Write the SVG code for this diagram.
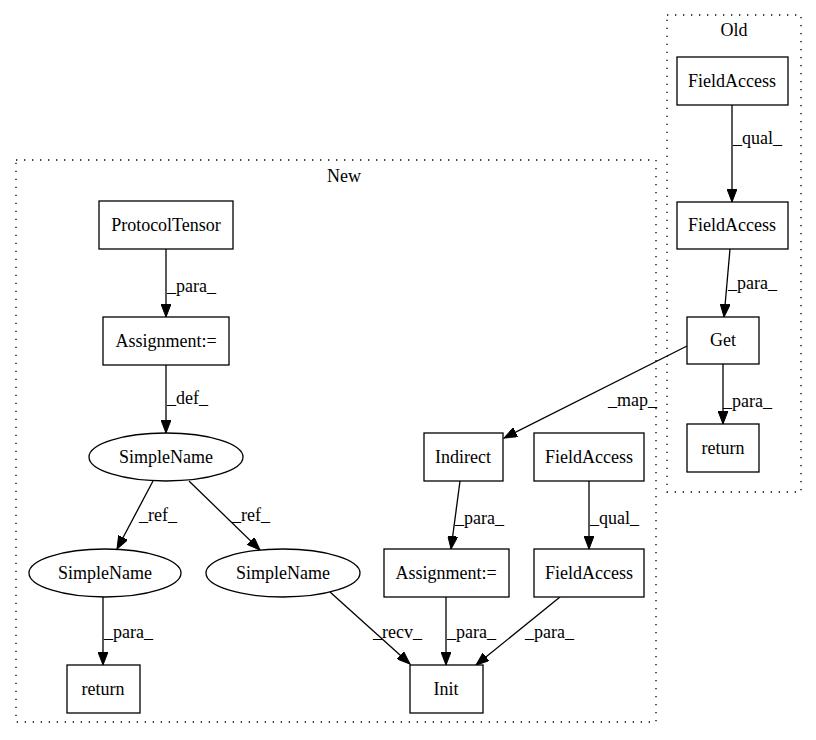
<svg xmlns="http://www.w3.org/2000/svg" width="816" height="740" viewBox="0 0 816 740">
<style>
  .cl { fill: none; stroke: #000; stroke-width: 1.3; stroke-dasharray: 1.3,6.7; }
  .nd { fill: #fff; stroke: #000; stroke-width: 1.3; }
  .t { font-family: "Liberation Serif", "Times New Roman", serif; font-size: 18px; fill: #000; }
  .c { text-anchor: middle; }
  .e { fill: none; stroke: #000; stroke-width: 1.3; marker-end: url(#ah); }
</style>
<defs>
  <marker id="ah" markerUnits="userSpaceOnUse" markerWidth="14" markerHeight="10" refX="13" refY="5" orient="auto">
    <path d="M0,0 L13,5 L0,10 Z" fill="#000" stroke="#000" stroke-width="1"/>
  </marker>
</defs>
<rect width="816" height="740" fill="#fff"/>

<g id="cluster_old">
  <rect class="cl" x="667" y="15" width="134" height="477"/>
  <text class="t c" x="734" y="36">Old</text>
</g>
<g id="cluster_new">
  <rect class="cl" x="16" y="160" width="640" height="562"/>
  <text class="t c" x="344" y="182">New</text>
</g>

<g id="connectors">
  <path class="e" d="M732,105 L732,202"/>
  <text class="t" x="733" y="144">_qual_</text>
  <path class="e" d="M730,249 L724,317"/>
  <text class="t" x="728" y="289">_para_</text>
  <path class="e" d="M723,364 L723,424"/>
  <text class="t" x="723" y="407">_para_</text>
  <path class="e" d="M687,346 L504,438"/>
  <text class="t" x="608" y="406">_map_</text>

  <path class="e" d="M166,249 L166,317"/>
  <text class="t" x="167" y="292">_para_</text>
  <path class="e" d="M166,365 L166,433"/>
  <text class="t" x="167" y="404">_def_</text>
  <path class="e" d="M153,481 L117,549"/>
  <text class="t" x="139" y="521">_ref_</text>
  <path class="e" d="M189,481 L260,550"/>
  <text class="t" x="232" y="521">_ref_</text>
  <path class="e" d="M103,597 L103,665"/>
  <text class="t" x="104" y="638">_para_</text>
  <path class="e" d="M330,592 L410,664"/>
  <text class="t" x="373" y="638">_recv_</text>
  <path class="e" d="M460,481 L451,549"/>
  <text class="t" x="455" y="524">_para_</text>
  <path class="e" d="M589,481 L589,549"/>
  <text class="t" x="590" y="524">_qual_</text>
  <path class="e" d="M446,597 L446,665"/>
  <text class="t" x="447" y="638">_para_</text>
  <path class="e" d="M560,597 L476,665"/>
  <text class="t" x="525" y="638">_para_</text>
</g>

<g id="old_fieldaccess1"><rect class="nd" x="677" y="57" width="111" height="48"/><text class="t c" x="732" y="87">FieldAccess</text></g>
<g id="old_fieldaccess2"><rect class="nd" x="677" y="202" width="111" height="47"/><text class="t c" x="732" y="231">FieldAccess</text></g>
<g id="old_get"><rect class="nd" x="687" y="317" width="72" height="47"/><text class="t c" x="723" y="346">Get</text></g>
<g id="old_return"><rect class="nd" x="687" y="424" width="72" height="48"/><text class="t c" x="723" y="454">return</text></g>

<g id="new_protocoltensor"><rect class="nd" x="99" y="201" width="134" height="48"/><text class="t c" x="166" y="231">ProtocolTensor</text></g>
<g id="new_assignment1"><rect class="nd" x="103" y="317" width="126" height="48"/><text class="t c" x="166" y="347">Assignment:=</text></g>
<g id="new_simplename1"><ellipse class="nd" cx="166" cy="457" rx="77" ry="24"/><text class="t c" x="166" y="463">SimpleName</text></g>
<g id="new_simplename2"><ellipse class="nd" cx="105" cy="573" rx="76" ry="24"/><text class="t c" x="105" y="579">SimpleName</text></g>
<g id="new_simplename3"><ellipse class="nd" cx="283" cy="573" rx="77" ry="24"/><text class="t c" x="283" y="579">SimpleName</text></g>
<g id="new_return"><rect class="nd" x="67" y="665" width="73" height="48"/><text class="t c" x="103" y="695">return</text></g>
<g id="new_indirect"><rect class="nd" x="424" y="433" width="79" height="48"/><text class="t c" x="463" y="463">Indirect</text></g>
<g id="new_fieldaccess1"><rect class="nd" x="534" y="433" width="110" height="48"/><text class="t c" x="589" y="463">FieldAccess</text></g>
<g id="new_assignment2"><rect class="nd" x="384" y="549" width="125" height="48"/><text class="t c" x="446" y="579">Assignment:=</text></g>
<g id="new_fieldaccess2"><rect class="nd" x="534" y="549" width="110" height="48"/><text class="t c" x="589" y="579">FieldAccess</text></g>
<g id="new_init"><rect class="nd" x="410" y="665" width="73" height="48"/><text class="t c" x="446" y="695">Init</text></g>
</svg>
